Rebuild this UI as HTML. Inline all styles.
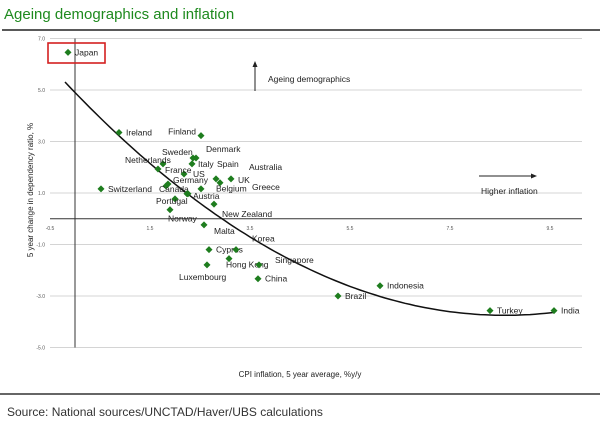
<!DOCTYPE html>
<html><head><meta charset="utf-8"><style>
body{margin:0;background:#fff;width:600px;height:428px;overflow:hidden;font-family:"Liberation Sans",Arial,sans-serif}
</style></head><body>
<svg width="600" height="428" viewBox="0 0 600 428" xmlns="http://www.w3.org/2000/svg">
<text x="4" y="19" font-size="15" fill="#1e8a1e" font-family="Liberation Sans, sans-serif">Ageing demographics and inflation</text>
<line x1="2" y1="30" x2="600" y2="30" stroke="#222" stroke-width="1.5"/>
<g id="grid"></g>
<g id="axes"></g>
<g id="curve"></g>
<g id="pts"></g>
<rect x="48" y="43" width="57" height="20" fill="none" stroke="#d42020" stroke-width="1.6"/>
<line x1="255" y1="91" x2="255" y2="66" stroke="#222" stroke-width="1"/>
<polygon points="252.5,67 257.5,67 255,61" fill="#222"/>
<text x="268" y="82" font-size="8.5" fill="#222">Ageing demographics</text>
<line x1="479" y1="176" x2="532" y2="176" stroke="#222" stroke-width="1"/>
<polygon points="531,173.5 531,178.5 537,176" fill="#222"/>
<text x="481" y="194" font-size="8.5" fill="#222">Higher inflation</text>
<text x="300" y="377" font-size="8" fill="#222" text-anchor="middle">CPI inflation, 5 year average, %y/y</text>
<text transform="translate(33,190) rotate(-90)" font-size="8" fill="#222" text-anchor="middle">5 year change in dependency ratio, %</text>
<line x1="0" y1="394" x2="600" y2="394" stroke="#333" stroke-width="1.5"/>
<text x="7" y="416" font-size="12" fill="#333">Source: National sources/UNCTAD/Haver/UBS calculations</text>
</svg>
<script>
const names=["Japan","Ireland","Finland","Sweden","Denmark","Italy","US","Netherlands","France","Spain","Belgium","UK","Germany","Switzerland","Canada","Portugal","Austria","Norway","New Zealand","Malta","Cyprus","Korea","Hong Kong","Luxembourg","Singapore","China","Brazil","Indonesia","Turkey","India","Australia","Greece"];
const xVals=[-0.14,0.88,2.52,2.36,2.42,2.34,2.18,1.76,1.66,2.82,2.9,3.12,1.86,0.52,1.82,2.0,2.26,1.9,2.78,2.58,2.68,3.22,3.08,2.64,3.68,3.66,5.26,6.1,8.3,9.58,2.52,2.24];
const yVals=[6.46,3.35,3.23,2.36,2.36,2.13,1.74,2.13,1.93,1.55,1.4,1.55,1.35,1.16,1.27,0.77,0.97,0.35,0.57,-0.24,-1.2,-1.2,-1.55,-1.79,-1.79,-2.33,-3.0,-2.6,-3.57,-3.57,1.16,0.97];
const labelDx=[7,7,-5,-31,10,6,9,-38,7,1,-4,7,5,7,-7,-19,5,-2,8,10,7,16,-3,-28,16,7,7,7,7,7,48,65];
const labelDy=[3,3,-1,-3,-6,3,3,-1,4,-12,9,4,-1,3,6,5,5,12,13,9,3,-8,9,15,-2,3,3,3,3,3,-19,-4];
const labelAnchor=["start","start","end","start","start","start","start","start","start","start","start","start","start","start","start","start","start","start","start","start","start","start","start","start","start","start","start","start","start","start","start","start"];
const xTicks=[-0.5,1.5,3.5,5.5,7.5,9.5];
const yTicks=[7,5,3,1,-1,-3,-5];
const trendA=0.117, trendMin=8.6, trendMinY=-3.75;
const NS="http://www.w3.org/2000/svg";
const X=v=>75+v*50, Y=v=>218.75-v*25.75;
function mk(t,a,p){const e=document.createElementNS(NS,t);for(const k in a)e.setAttribute(k,a[k]);p.appendChild(e);return e;}
const grid=document.getElementById('grid'),axes=document.getElementById('axes');
yTicks.forEach(t=>{
 const l=mk('line',{x1:50,x2:582,y1:Y(t),y2:Y(t),stroke:'#d4d4d4','stroke-width':1},grid);
 
 
 const tx=mk('text',{x:45,y:Y(t)+2,'font-size':5,fill:'#555','text-anchor':'end'},axes);tx.textContent=t.toFixed(1);
 
 
});
const ya=mk('line',{x1:X(0),x2:X(0),y1:Y(7),y2:Y(-5),stroke:'#333','stroke-width':1},axes);


const xa=mk('line',{x1:50,x2:582,y1:Y(0),y2:Y(0),stroke:'#333','stroke-width':1},axes);


xTicks.forEach(t=>{
 const tx=mk('text',{x:X(t),y:Y(0)+11,'font-size':5,fill:'#555','text-anchor':'middle'},axes);tx.textContent=t.toFixed(1);
 
 
});
let d='';for(let v=-0.2;v<=9.62;v+=0.1){const y=trendA*(v-trendMin)**2+trendMinY;d+=(d?'L':'M')+X(v).toFixed(1)+','+Y(y).toFixed(1);}
const c=mk('path',{d:d,fill:'none',stroke:'#111','stroke-width':1.5},document.getElementById('curve'));


const pts=document.getElementById('pts');
names.forEach((n,i)=>{
 const px=X(xVals[i]),py=Y(yVals[i]);
 const m=mk('polygon',{points:`${px},${py-3.5} ${px+3.5},${py} ${px},${py+3.5} ${px-3.5},${py}`,fill:'#1e7d1e'},pts);
 
 
 const t=mk('text',{x:px+labelDx[i],y:py+labelDy[i],'font-size':8.5,fill:'#222','text-anchor':labelAnchor[i]},pts);t.textContent=n;
 
 
});
</script>
</body></html>
